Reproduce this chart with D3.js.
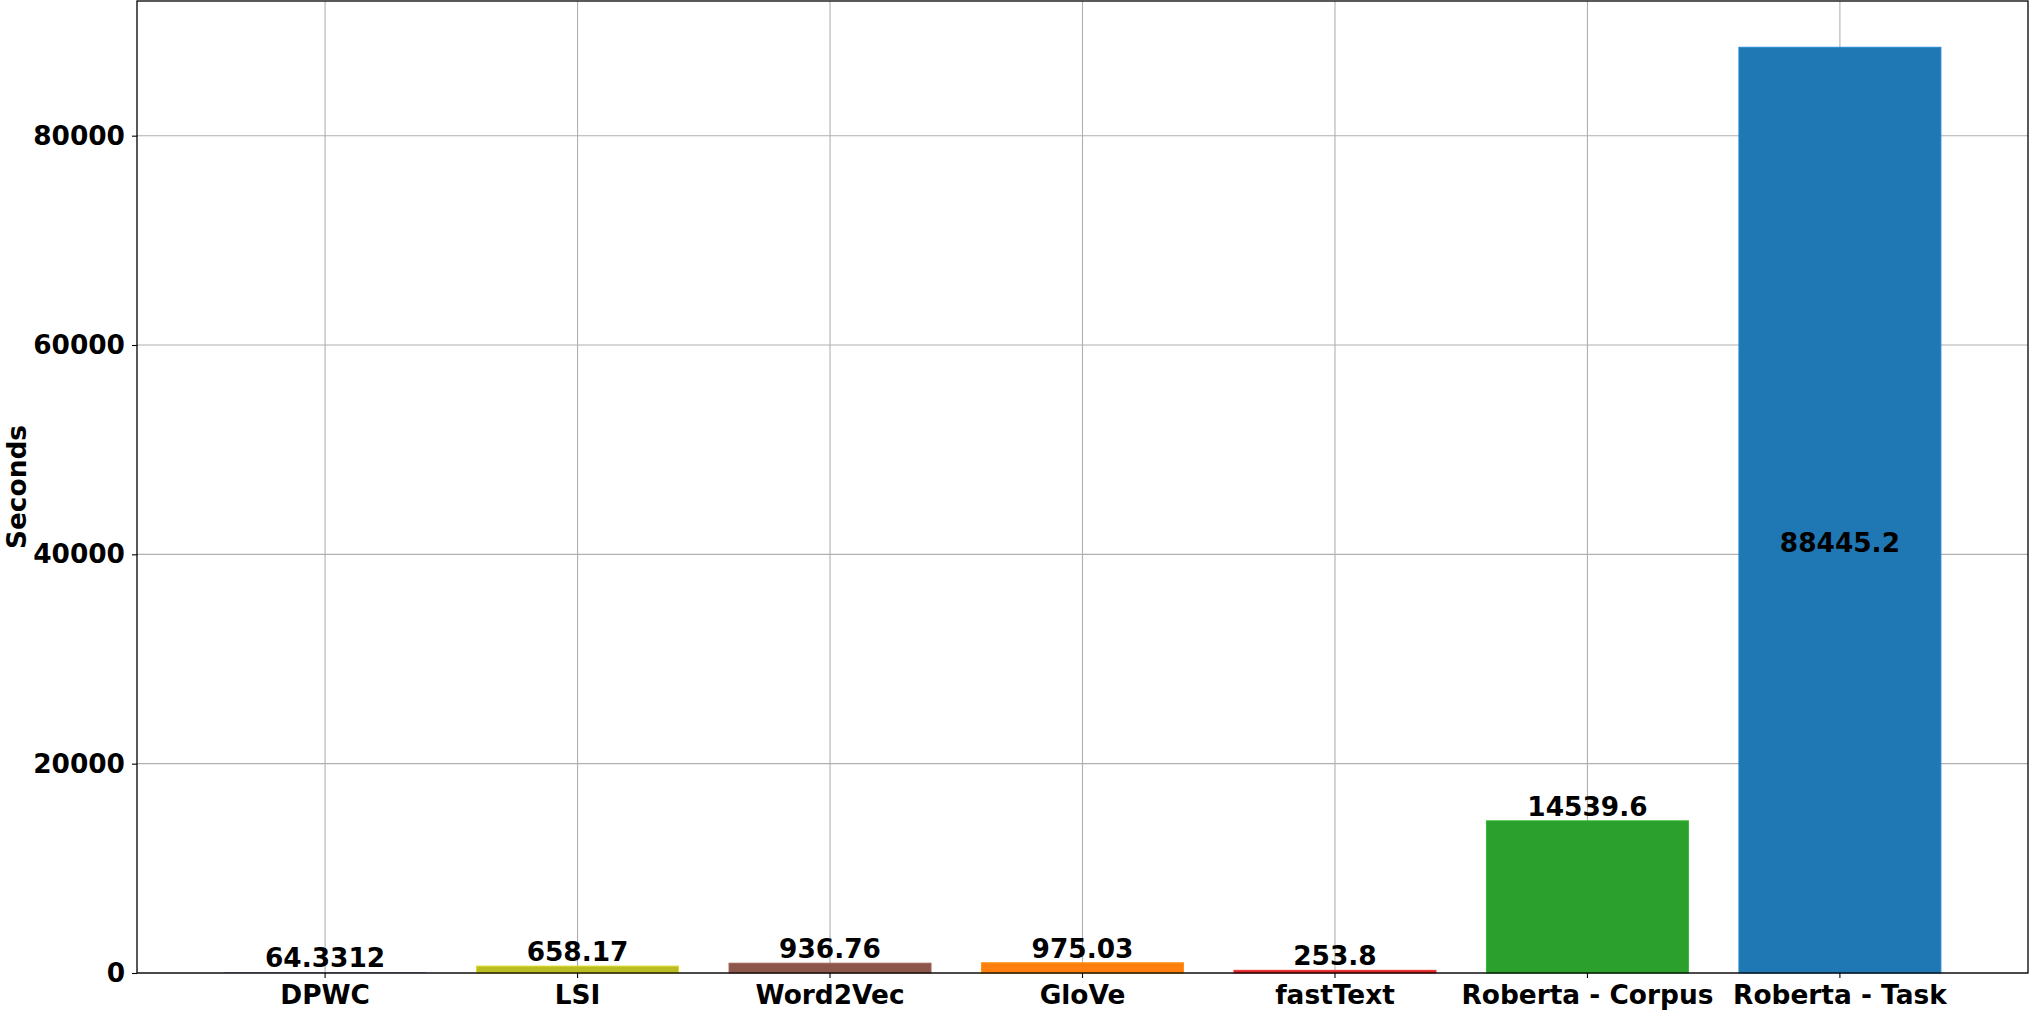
<!DOCTYPE html>
<html>
<head>
<meta charset="utf-8">
<script src="https://cdn.jsdelivr.net/npm/d3@7"></script>
<style>
  body { margin: 0; background: #fff; }
  svg text { font-family: "DejaVu Sans", sans-serif; font-weight: bold; }
</style>
</head>
<body>
<div id="chart"></div>
<script>
// chart data
const categories = ["DPWC", "LSI", "Word2Vec", "GloVe", "fastText", "Roberta - Corpus", "Roberta - Task"];
const seconds = [64.3312, 658.17, 936.76, 975.03, 253.8, 14539.6, 88445.2];
const labels = ["64.3312", "658.17", "936.76", "975.03", "253.8", "14539.6", "88445.2"];
const barColors = ["#9467bd", "#bcbd22", "#8c564b", "#ff7f0e", "#d62728", "#2ca02c", "#1f77b4"];
const yTicks = [0, 20000, 40000, 60000, 80000];

const W = 2029, H = 1010;
const margin = { top: 1, right: 1, bottom: 37, left: 137 };
const width = W - margin.left - margin.right,
  height = H - margin.top - margin.bottom;
const fontSize = "26.4px";

const svg = d3
  .select("#chart")
  .append("svg")
  .attr("width", W)
  .attr("height", H)
  .append("g")
  .attr("transform", `translate(${margin.left},${margin.top})`);

// scales
const x = d3
  .scaleBand()
  .domain(categories)
  .range([0, width])
  .paddingInner(0.2)
  .paddingOuter(0.345);

const yMax = d3.max(seconds) * 1.05;
const y = d3.scaleLinear().domain([0, yMax]).range([height, 0]);

// grid lines
svg
  .append("g")
  .selectAll("line")
  .data(yTicks)
  .enter()
  .append("line")
  .attr("x1", 0)
  .attr("x2", width)
  .attr("y1", (d) => y(d))
  .attr("y2", (d) => y(d))
  .attr("stroke", "#b0b0b0")
  .attr("stroke-width", 1.1);

svg
  .append("g")
  .selectAll("line")
  .data(categories)
  .enter()
  .append("line")
  .attr("x1", (d) => x(d) + x.bandwidth() / 2)
  .attr("x2", (d) => x(d) + x.bandwidth() / 2)
  .attr("y1", 0)
  .attr("y2", height)
  .attr("stroke", "#b0b0b0")
  .attr("stroke-width", 1.1);

// bars
svg
  .selectAll(".bar")
  .data(seconds)
  .enter()
  .append("rect")
  .attr("class", "bar")
  .attr("x", (d, i) => x(categories[i]))
  .attr("y", (d) => y(d))
  .attr("width", x.bandwidth())
  .attr("height", (d) => height - y(d))
  .attr("fill", (d, i) => barColors[i])
  .attr("stroke", (d, i) => d3.color(barColors[i]).brighter(0.4))
  .attr("stroke-width", (d) => (height - y(d) < 2 ? 0 : 1));

// value labels
svg
  .selectAll(".val")
  .data(seconds)
  .enter()
  .append("text")
  .attr("class", "val")
  .attr("x", (d, i) => x(categories[i]) + x.bandwidth() / 2)
  .attr("y", (d, i) => (i === seconds.length - 1 ? y(40000) - 2 : y(d) - 5))
  .attr("text-anchor", "middle")
  .style("font-size", fontSize)
  .style("fill", "#000")
  .text((d, i) => labels[i]);

// axes
const xAxis = svg
  .append("g")
  .attr("transform", `translate(0,${height})`)
  .call(d3.axisBottom(x).tickSize(5).tickSizeOuter(0).tickPadding(7));
xAxis.select(".domain").remove();
xAxis.selectAll("line").attr("stroke", "#000").attr("stroke-width", 1.1);
xAxis
  .selectAll("text")
  .style("font-size", fontSize)
  .style("font-family", "DejaVu Sans")
  .style("font-weight", "bold")
  .attr("fill", "#000");

const yAxis = svg
  .append("g")
  .call(d3.axisLeft(y).tickValues(yTicks).tickFormat(d3.format("d")).tickSize(5).tickSizeOuter(0).tickPadding(7));
yAxis.select(".domain").remove();
yAxis.selectAll("line").attr("stroke", "#000").attr("stroke-width", 1.1);
yAxis
  .selectAll("text")
  .style("font-size", fontSize)
  .style("font-family", "DejaVu Sans")
  .style("font-weight", "bold")
  .attr("fill", "#000");

// frame
svg
  .append("rect")
  .attr("x", 0)
  .attr("y", 0)
  .attr("width", width)
  .attr("height", height)
  .attr("fill", "none")
  .attr("stroke", "#000")
  .attr("stroke-width", 1.3);

// y label
svg
  .append("text")
  .attr("transform", `translate(${-margin.left + 26},${height / 2}) rotate(-90)`)
  .attr("text-anchor", "middle")
  .style("font-size", fontSize)
  .style("fill", "#000")
  .text("Seconds");
</script>
</body>
</html>
